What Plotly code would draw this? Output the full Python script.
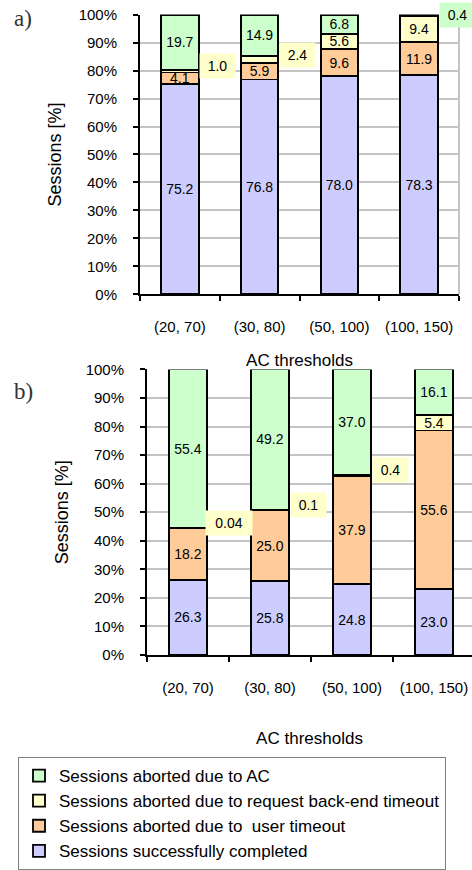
import plotly.graph_objects as go

# ---- data -------------------------------------------------------------
thresholds = ["(20, 70)", "(30, 80)", "(50, 100)", "(100, 150)"]

series_names = [
    "Sessions successfully completed",
    "Sessions aborted due to\u00a0 user timeout",
    "Sessions aborted due to request back-end timeout",
    "Sessions aborted due to AC",
]

# panel a)
a_completed = [75.2, 76.8, 78.0, 78.3]
a_user_timeout = [4.1, 5.9, 9.6, 11.9]
a_backend_timeout = [1.0, 2.4, 5.6, 9.4]
a_ac = [19.7, 14.9, 6.8, 0.4]

# panel b)
b_completed = [26.3, 25.8, 24.8, 23.0]
b_user_timeout = [18.2, 25.0, 37.9, 55.6]
b_backend_timeout = [0.04, 0.1, 0.4, 5.4]
b_ac = [55.4, 49.2, 37.0, 16.1]

# ---- styling ----------------------------------------------------------
colors = ["#CCCCFF", "#FFCC99", "#FFFFCC", "#CCFFCC"]
FONT = "Liberation Sans, Arial, sans-serif"
W, H = 472, 870
SMALL = 3.0          # segments thinner than this get a callout label beside the bar
callout_yshift = {("a", 3, 3): 0}   # per-label vertical nudges (px)
callout_xshift = {("b", 2, 0): 41}  # per-label horizontal nudges (px)
DEFAULT_YSHIFT = 5
DEFAULT_XSHIFT = 38


def fmt(v):
    return f"{v:.1f}" if abs(v * 10 - round(v * 10)) < 1e-9 else f"{v:.2f}"


panels = {
    "a": dict(series=[a_completed, a_user_timeout, a_backend_timeout, a_ac],
              xaxis="x", yaxis="y"),
    "b": dict(series=[b_completed, b_user_timeout, b_backend_timeout, b_ac],
              xaxis="x2", yaxis="y2"),
}

fig = go.Figure()
annotations = []

for key, p in panels.items():
    series = p["series"]
    for s_idx, (name, vals, col) in enumerate(zip(series_names, series, colors)):
        texts = [fmt(v) if v >= SMALL else "" for v in vals]
        fig.add_trace(go.Bar(
            x=thresholds, y=vals, name=name,
            xaxis=p["xaxis"], yaxis=p["yaxis"],
            marker=dict(color=col, line=dict(color="black", width=1.8)),
            width=0.47,
            text=texts, textposition="inside", insidetextanchor="middle",
            textangle=0, constraintext="none",
            textfont=dict(family=FONT, size=14, color="black"),
            legendgroup=name, showlegend=(key == "a"),
            hoverinfo="skip",
        ))
        # callouts for thin segments
        for i, v in enumerate(vals):
            if v < SMALL:
                base = sum(series[k][i] for k in range(s_idx))
                label = fmt(v)
                annotations.append(dict(
                    x=thresholds[i], y=base + v / 2,
                    xref=p["xaxis"], yref=p["yaxis"],
                    text=label, showarrow=False,
                    xshift=callout_xshift.get((key, s_idx, i), DEFAULT_XSHIFT),
                    yshift=callout_yshift.get((key, s_idx, i), DEFAULT_YSHIFT),
                    bgcolor=col, borderpad=4, width=11 * len(label) - 6,
                    font=dict(family=FONT, size=14, color="black"),
                ))

# panel letters
for letter, ypx in (("a)", 19), ("b)", 402)):
    annotations.append(dict(
        x=23 / W, y=1 - ypx / H, xref="paper", yref="paper",
        text=letter, showarrow=False, xanchor="center", yanchor="middle",
        font=dict(family="Liberation Serif, serif", size=23, color="#333333"),
    ))

xcommon = dict(
    type="category", tickson="boundaries", showgrid=False,
    showline=True, linecolor="black", linewidth=2,
    ticks="outside", ticklen=5, tickwidth=2, tickcolor="black",
    tickfont=dict(family=FONT, size=15, color="black"),
    ticklabelstandoff=18, automargin=False,
    title=dict(text="AC thresholds", font=dict(family=FONT, size=17, color="black")),
)
ycommon = dict(
    range=[0, 100], dtick=10, ticksuffix="%",
    showgrid=True, gridcolor="#C4C4C4", gridwidth=2,
    showline=True, linecolor="black", linewidth=2,
    ticks="outside", ticklen=5, tickwidth=2, tickcolor="black",
    tickfont=dict(family=FONT, size=15, color="black"),
    ticklabelstandoff=13, automargin=False, zeroline=False,
    title=dict(text="Sessions [%]", font=dict(family=FONT, size=18, color="black"),
               standoff=12),
)

fig.update_layout(
    width=W, height=H,
    margin=dict(l=0, r=0, t=0, b=0),
    paper_bgcolor="white", plot_bgcolor="white",
    barmode="stack",
    xaxis=dict(xcommon, domain=[140 / W, 459 / W], range=[-0.5, 3.5], anchor="y",
               title=dict(xcommon["title"], standoff=20)),
    yaxis=dict(ycommon, domain=[568 / H, 855 / H], anchor="x"),
    xaxis2=dict(xcommon, domain=[147 / W, 1.0], range=[-0.5, -0.5 + 325 / 82],
                anchor="y2", title=dict(xcommon["title"], standoff=37)),
    yaxis2=dict(ycommon, domain=[198 / H, 491 / H], anchor="x2"),
    annotations=annotations,
    shapes=[dict(type="line", xref="x domain", yref="y domain",
                 x0=1, x1=1, y0=0, y1=1, line=dict(color="#C4C4C4", width=2))],
    legend=dict(
        traceorder="reversed", orientation="v",
        x=18 / W, y=1 - 777 / H, xanchor="left", yanchor="top",
        bordercolor="#808080", borderwidth=1, bgcolor="white",
        font=dict(family=FONT, size=17, color="black"),
        itemwidth=30, tracegroupgap=0,
    ),
)

fig.write_html("out.html")
